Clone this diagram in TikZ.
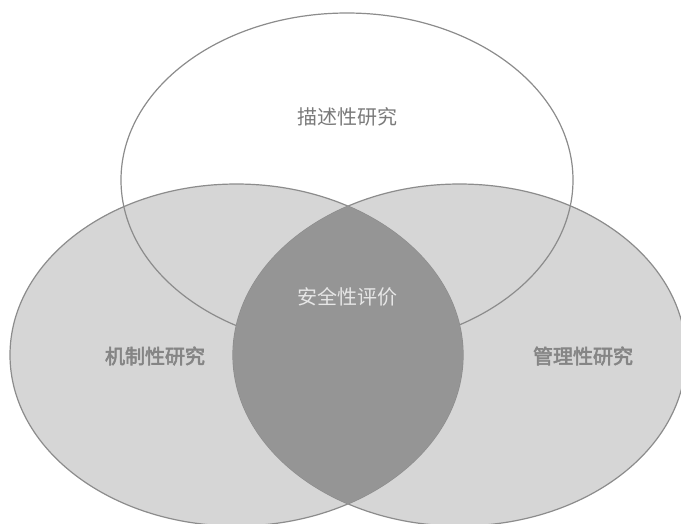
\documentclass[tikz,border=0pt]{standalone}
\usepackage{fontspec}
\newfontfamily\cjk{Noto Sans CJK SC}
\newfontfamily\cjkbold[FakeBold=3]{Noto Sans CJK SC}
\definecolor{ringcol}{HTML}{8C8C8C}
\definecolor{lightfill}{HTML}{D6D6D6}
\definecolor{darkfill}{HTML}{959595}
\definecolor{toptext}{HTML}{7A7A7A}
\definecolor{sidetext}{HTML}{858585}
\definecolor{lenstext}{HTML}{E6E6E6}
\tikzset{
  ring/.style={draw=ringcol, line width=1.2pt},
  toplabel/.style={font=\cjk\fontsize{20}{20}\selectfont, text=toptext, inner sep=0pt},
  sidelabel/.style={font=\cjkbold\fontsize{20}{20}\selectfont, text=sidetext, inner sep=0pt},
  lenslabel/.style={font=\cjk\fontsize{20}{20}\selectfont, text=lenstext, inner sep=0pt},
  topell/.style={x radius=226pt, y radius=167pt},
  sideell/.style={x radius=226.5pt, y radius=171pt}
}
\begin{document}
\begin{tikzpicture}[x=1pt,y=-1pt]
\useasboundingbox (0,0) rectangle (681,523);
\fill[white] (0,0) rectangle (681,523);
\coordinate (T) at (347,180);
\coordinate (L) at (236.5,355);
\coordinate (R) at (459.5,355);
% top ellipse (white)
\fill[white] (T) ellipse [topell];
% side ellipses
\fill[lightfill] (L) ellipse [sideell];
\fill[lightfill] (R) ellipse [sideell];
% outlines
\draw[ring] (T) ellipse [topell];
\draw[ring] (L) ellipse [sideell];
\draw[ring] (R) ellipse [sideell];
% lens
\begin{scope}
  \clip (L) ellipse [sideell];
  \fill[darkfill] (R) ellipse [sideell];
\end{scope}
% labels
\node[toplabel]  (desc) at (347,117) {描述性研究};
\node[lenslabel] (safe) at (347,297) {安全性评价};
\node[sidelabel] (mech) at (155,356) {机制性研究};
\node[sidelabel] (mgmt) at (583,356) {管理性研究};
\end{tikzpicture}
\end{document}
